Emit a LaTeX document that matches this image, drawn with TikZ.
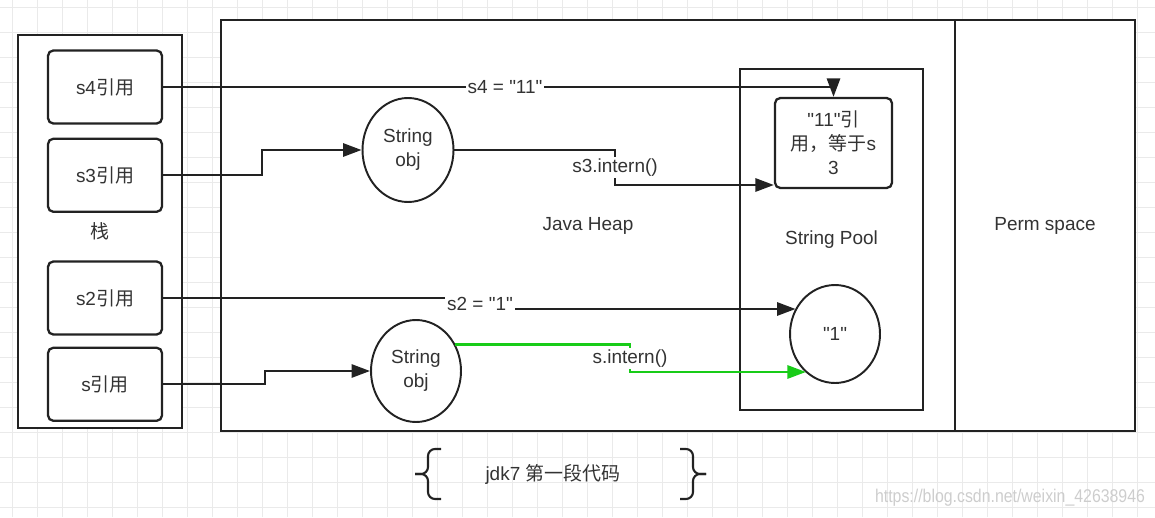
\documentclass[tikz,border=0pt]{standalone}
\usepackage{fontspec}
\newfontfamily\lsans{Liberation Sans}
\newfontfamily\cjk{Noto Sans CJK SC}
\usetikzlibrary{positioning}
\usetikzlibrary{shapes.geometric}
\usetikzlibrary{arrows.meta}
\definecolor{Line-1}{RGB}{34,34,34}
\definecolor{Text-1}{RGB}{51,51,51}
\definecolor{Green-1}{RGB}{24,204,24}
\definecolor{Grid-1}{RGB}{234,234,234}
\definecolor{Mark-1}{RGB}{205,205,205}

\begin{document}
\begin{tikzpicture}[x=0.02cm, y=-0.02cm, font=\lsans\fontsize{10.8}{13.6}\selectfont, text=Text-1]
    \tikzset{ area/.style ={draw=Line-1, line width=1.5pt, fill=white, inner sep=0pt} }
    \tikzset{ ref/.style  ={draw=Line-1, line width=1.3pt, fill=white, rounded corners=3pt, minimum width=2.28cm, minimum height=1.46cm, inner sep=1pt, align=center} }
    \tikzset{ obj/.style  ={draw=Line-1, line width=1.1pt, fill=white, ellipse, inner sep=0pt, align=center} }
    \tikzset{ lnk/.style  ={draw=Line-1, line width=1.3pt, ->, >={Triangle[length=10.5pt,width=7.5pt]}} }
    \tikzset{ glnk/.style ={lnk, draw=Green-1} }
    \tikzset{ lbl/.style  ={fill=white, inner sep=1pt} }
    \tikzset{ gridln/.style={draw=Grid-1, line width=0.4pt} }

    \useasboundingbox (0,0) rectangle (1155,517);

    % canvas grid
    \foreach \gx in {12,37,...,1155} \draw[gridln] (\gx,0) -- (\gx,517);
    \foreach \gy in {7,32,...,517} \draw[gridln] (0,\gy) -- (1155,\gy);

    % memory areas
    \node[area, minimum width=3.28cm,  minimum height=7.86cm] (stk)  at (100,231.5)  {\cjk 栈};
    \node[area, minimum width=14.68cm, minimum height=8.22cm] (heap) at (588,225.5)  {Java Heap};
    \node[area, minimum width=3.6cm,   minimum height=8.22cm] (perm) at (1045,225.5) {Perm space};
    \node[area, minimum width=3.66cm,  minimum height=6.82cm] (pool) at (831.5,239.5) {String Pool};

    % references on the stack
    \node[ref                   ] (r4) at (105,87)  {s4{\cjk 引用}};
    \node[ref, below=0.26cm of r4] (r3)              {s3{\cjk 引用}};
    \node[ref                   ] (r2) at (105,298) {s2{\cjk 引用}};
    \node[ref, below=0.22cm of r2] (r1)              {s{\cjk 引用}};

    % objects
    \node[obj, minimum width=1.82cm, minimum height=2.08cm] (o1) at (408,150) {String\\obj};
    \node[obj, minimum width=1.80cm, minimum height=2.04cm] (o2) at (416,371) {String\\obj};
    \node[ref, minimum width=2.34cm, minimum height=1.80cm, text width=2.1cm] (lit11) at (833.5,143) {"11"{\cjk 引}\\{\cjk 用，等于}s\\3};
    \node[obj, minimum width=1.80cm, minimum height=1.96cm] (lit1) at (835,334) {"1"};

    % bends
    \coordinate (k3)  at (262,150);
    \coordinate (k3i) at (615,150);
    \coordinate (k3o) at (615,185);
    \coordinate (k2)  at (480,298);
    \coordinate (k2b) at (480,309);
    \coordinate (k1)  at (265,371);
    \coordinate (k1o) at (630,372);

    \draw[lnk] (r4.east) -- node[lbl, pos=0.51] (l4) {s4 = "11"} (r4.east -| lit11.north) -- (lit11.north);
    \draw[lnk] (r3.east) -- (k3 |- r3.east) -- (k3) -- (o1.west);
    \draw[lnk] (o1.east) -- (k3i) -- node[lbl] (l3) {s3.intern()} (k3o) -- (k3o -| lit11.west);
    \draw[lnk] (r2.east) -- (k2) -- node[lbl] (l2) {s2 = "1"} (k2b) -- (k2b -| lit1.147);
    \draw[lnk] (r1.east) -- (k1 |- r1.east) -- (k1) -- (o2.west);
    \draw[glnk] (o2.34) -- (o2.34 -| k1o) -- node[lbl, text=Text-1] (l1) {s.intern()} (k1o) -- (k1o -| lit1.233);

    % caption with braces
    \node (code) at (553,474) {jdk7 {\cjk 第一段代码}};
    \draw[Line-1, line width=1.2pt, rounded corners=4pt] (441,449) -- (428,449) -- (428,474) -- (415,474);
    \draw[Line-1, line width=1.2pt, rounded corners=4pt] (415,474) -- (428,474) -- (428,499) -- (441,499);
    \draw[Line-1, line width=1.2pt, rounded corners=4pt] (680,449) -- (693,449) -- (693,474) -- (706,474);
    \draw[Line-1, line width=1.2pt, rounded corners=4pt] (706,474) -- (693,474) -- (693,499) -- (680,499);

    \node[text=Mark-1, font=\lsans\fontsize{10.5}{12}\selectfont] (mark) at (1010,498) {\scalebox{0.86}[1]{https://blog.csdn.net/weixin\_42638946}};
\end{tikzpicture}
\end{document}
